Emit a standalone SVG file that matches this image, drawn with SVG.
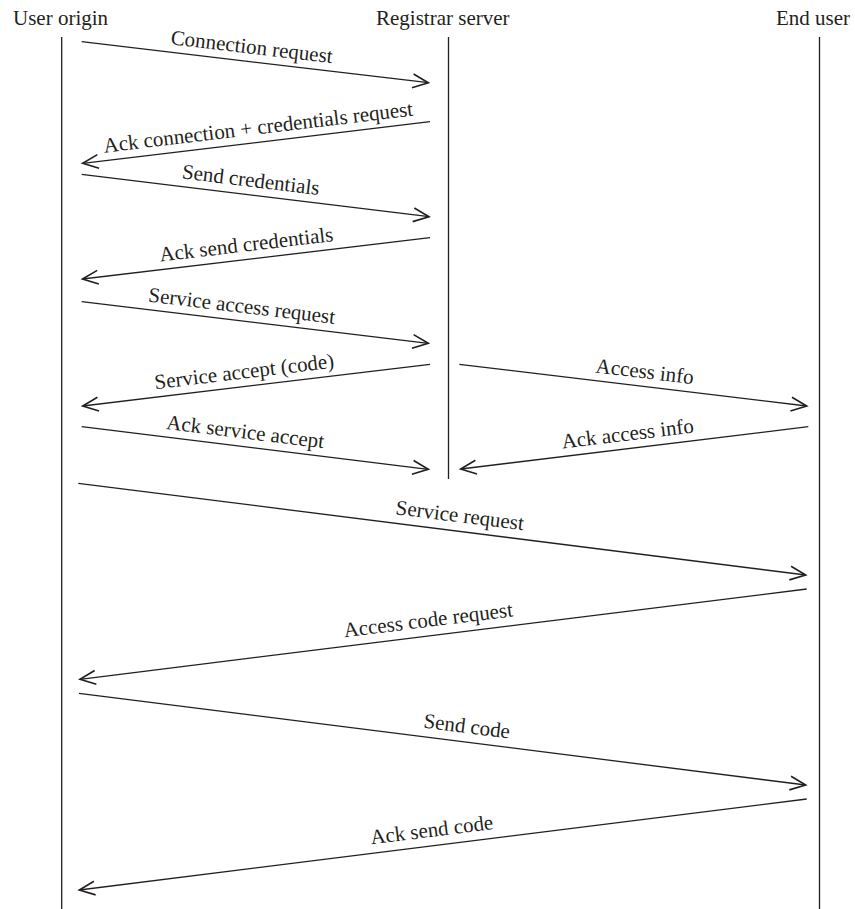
<svg xmlns="http://www.w3.org/2000/svg" width="855" height="909" viewBox="0 0 855 909">
  <defs>
    <marker id="open-arrow" markerUnits="userSpaceOnUse" markerWidth="20" markerHeight="20" refX="0" refY="0" viewBox="-14 -8 16 16" orient="auto" overflow="visible">
      <path d="M-12.5,-5.5 L0,0 L-12.5,5.5" fill="none" stroke="#231f20" stroke-width="1.3" stroke-linejoin="miter"/>
    </marker>
    <style>
      .actor { font-family: "Liberation Serif", "Times New Roman", serif; font-size: 21px; fill: #231f20; }
      .lbl { font-family: "Liberation Serif", "Times New Roman", serif; font-size: 21px; fill: #231f20; text-anchor: middle; }
      .life { stroke: #231f20; stroke-width: 1.3; fill: none; }
      .msg { stroke: #231f20; stroke-width: 1.3; fill: none; marker-end: url(#open-arrow); }
    </style>
  </defs>

  <rect x="0" y="0" width="855" height="909" fill="#ffffff"/>

  <!-- participants with their lifelines -->
  <g id="user-origin">
    <text class="actor" x="13" y="25">User origin</text>
    <line class="life" x1="61.7" y1="37" x2="61.7" y2="909"/>
  </g>
  <g id="registrar-server">
    <text class="actor" x="376" y="25">Registrar server</text>
    <line class="life" x1="448.5" y1="37" x2="448.5" y2="479"/>
  </g>
  <g id="end-user">
    <text class="actor" x="776" y="25">End user</text>
    <line class="life" x1="819.5" y1="37" x2="819.5" y2="909"/>
  </g>

  <!-- messages -->
  <g id="messages">
    <line class="msg" x1="81.7" y1="41.7" x2="428.3" y2="82.7"/>
    <line class="msg" x1="430" y1="121.7" x2="82.7" y2="163.3"/>
    <line class="msg" x1="81.7" y1="174.3" x2="429" y2="216.7"/>
    <line class="msg" x1="430" y1="237.7" x2="82.5" y2="279"/>
    <line class="msg" x1="81.7" y1="301.7" x2="428.3" y2="343.3"/>
    <line class="msg" x1="430" y1="364.3" x2="82.7" y2="406"/>
    <line class="msg" x1="81.7" y1="426.7" x2="428.3" y2="469.3"/>
    <line class="msg" x1="459.3" y1="364.3" x2="806.7" y2="406"/>
    <line class="msg" x1="808.3" y1="426.7" x2="460.7" y2="469"/>
    <line class="msg" x1="78.3" y1="483.3" x2="805.7" y2="575"/>
    <line class="msg" x1="806.7" y1="589" x2="80" y2="679.3"/>
    <line class="msg" x1="79" y1="693.3" x2="805.7" y2="785"/>
    <line class="msg" x1="806.7" y1="799" x2="79.3" y2="890"/>
  </g>

  <!-- message labels -->
  <g id="labels">
    <text class="lbl" transform="translate(251 53.7) rotate(6.75)">Connection request</text>
    <text class="lbl" transform="translate(259 134.1) rotate(-6.83)">Ack connection + credentials request</text>
    <text class="lbl" transform="translate(250 186.7) rotate(6.96)">Send credentials</text>
    <text class="lbl" transform="translate(247 251.3) rotate(-6.77)">Ack send credentials</text>
    <text class="lbl" transform="translate(241 312.7) rotate(6.84)">Service access request</text>
    <text class="lbl" transform="translate(245 378.4) rotate(-6.85)">Service accept (code)</text>
    <text class="lbl" transform="translate(244.5 438.6) rotate(7)">Ack service accept</text>
    <text class="lbl" transform="translate(644 378.3) rotate(6.85)">Access info</text>
    <text class="lbl" transform="translate(628.5 440.5) rotate(-6.94)">Ack access info</text>
    <text class="lbl" transform="translate(459 522.2) rotate(7.18)">Service request</text>
    <text class="lbl" transform="translate(429 626.8) rotate(-7.08)">Access code request</text>
    <text class="lbl" transform="translate(466 733) rotate(7.19)">Send code</text>
    <text class="lbl" transform="translate(432.5 836.7) rotate(-7.13)">Ack send code</text>
  </g>
</svg>
